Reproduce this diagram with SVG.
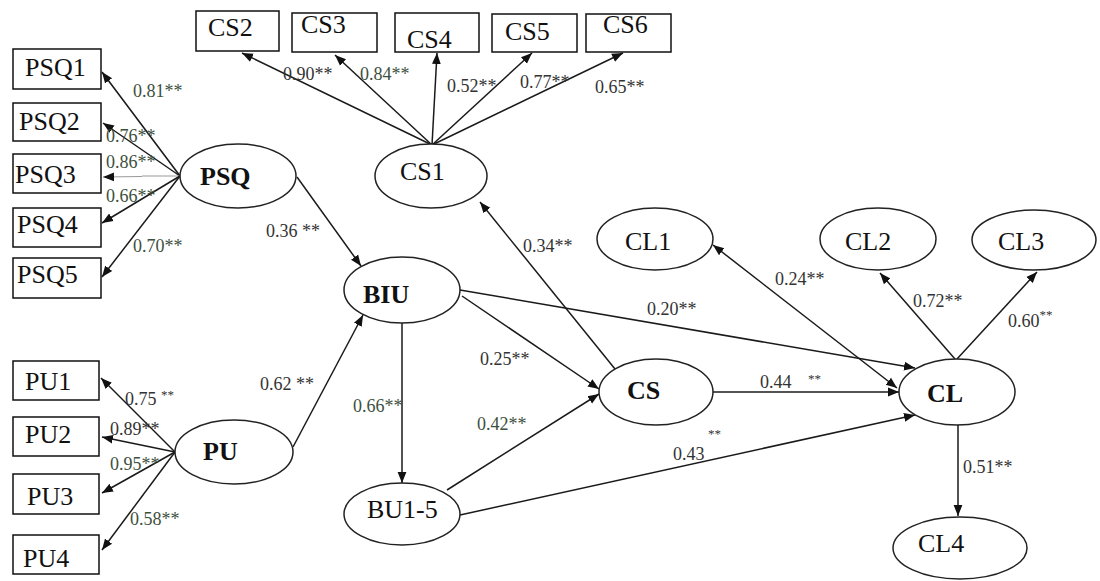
<svg xmlns="http://www.w3.org/2000/svg" width="1100" height="581" viewBox="0 0 1100 581">
<style>
.box{fill:#fff;stroke:#111;stroke-width:1.5}
.ell{fill:#fff;stroke:#222;stroke-width:1.5}
.t{font-family:"Liberation Serif","Times New Roman",serif;font-size:26px;fill:#111}
.tb{font-family:"Liberation Serif","Times New Roman",serif;font-size:26px;font-weight:bold;fill:#111}
.c{font-family:"Liberation Serif","Times New Roman",serif;font-size:18px;fill:#333}
.g{fill:#3d5040}
.s{font-size:13px}
.ln{fill:none;stroke:#1a1a1a;stroke-width:1.5;marker-end:url(#ah)}
.thin{fill:none;stroke:#999;stroke-width:1}
</style>
<defs>
<marker id="ah" viewBox="0 0 10 10" refX="10" refY="5" markerWidth="11" markerHeight="11" markerUnits="userSpaceOnUse" orient="auto"><path d="M0,1 L10,5 L0,9 z" fill="#111"/></marker>
<marker id="as" viewBox="0 0 10 10" refX="0" refY="5" markerWidth="11" markerHeight="11" markerUnits="userSpaceOnUse" orient="auto"><path d="M10,1 L0,5 L10,9 z" fill="#111"/></marker>
</defs>
<rect width="1100" height="581" fill="#fff"/>

<g id="connectors">
<line class="ln" x1="180" y1="176" x2="102" y2="72"/>
<line class="ln" x1="180" y1="176" x2="103" y2="123"/>
<line class="thin" x1="142" y1="176" x2="180" y2="176"/>
<line class="ln" x1="142" y1="176.5" x2="103" y2="177" style="stroke:#999;stroke-width:1"/>
<line class="ln" x1="180" y1="176" x2="102" y2="223"/>
<line class="ln" x1="180" y1="176" x2="102" y2="277"/>
<line class="ln" x1="175" y1="452" x2="101" y2="378"/>
<line class="ln" x1="175" y1="452" x2="102" y2="437"/>
<line class="ln" x1="175" y1="452" x2="102" y2="493"/>
<line class="ln" x1="175" y1="452" x2="102" y2="550"/>
<line class="ln" x1="432" y1="145" x2="242" y2="53"/>
<line class="ln" x1="432" y1="145" x2="335" y2="55"/>
<line class="ln" x1="432" y1="145" x2="437" y2="53"/>
<line class="ln" x1="432" y1="145" x2="532" y2="53"/>
<line class="ln" x1="432" y1="145" x2="623" y2="53"/>
<line class="ln" x1="297" y1="177" x2="361" y2="266"/>
<line class="ln" x1="293" y1="447" x2="363" y2="315"/>
<line class="ln" x1="402" y1="323" x2="402" y2="483"/>
<line class="ln" x1="462" y1="296" x2="599" y2="389"/>
<line class="ln" x1="447" y1="490" x2="599" y2="394"/>
<line class="ln" x1="460" y1="290" x2="915" y2="368"/>
<line class="ln" x1="460" y1="515" x2="915" y2="415"/>
<line class="ln" x1="713" y1="392" x2="899" y2="392"/>
<line class="ln" x1="713" y1="245" x2="897" y2="388" style="marker-start:url(#as)"/>
<line class="ln" x1="615" y1="369" x2="480" y2="202"/>
<line class="ln" x1="955" y1="359" x2="880" y2="273"/>
<line class="ln" x1="957" y1="359" x2="1037" y2="272"/>
<line class="ln" x1="958" y1="425" x2="958" y2="516"/>
</g>

<g id="PSQ1"><rect class="box" x="13" y="49" width="88" height="40"/><text class="t" x="25" y="76">PSQ1</text></g>
<g id="PSQ2"><rect class="box" x="13" y="103" width="88" height="38"/><text class="t" x="19" y="130">PSQ2</text></g>
<g id="PSQ3"><rect class="box" x="13" y="154" width="88" height="39"/><text class="t" x="15" y="183">PSQ3</text></g>
<g id="PSQ4"><rect class="box" x="13" y="208" width="88" height="39"/><text class="t" x="17" y="233">PSQ4</text></g>
<g id="PSQ5"><rect class="box" x="13" y="258" width="88" height="40"/><text class="t" x="17" y="283">PSQ5</text></g>
<g id="PU1"><rect class="box" x="13" y="361" width="86" height="39"/><text class="t" x="25" y="390">PU1</text></g>
<g id="PU2"><rect class="box" x="13" y="417" width="86" height="39"/><text class="t" x="25" y="443">PU2</text></g>
<g id="PU3"><rect class="box" x="13" y="474" width="86" height="40"/><text class="t" x="27" y="505">PU3</text></g>
<g id="PU4"><rect class="box" x="13" y="535" width="86" height="39"/><text class="t" x="23" y="567">PU4</text></g>
<g id="CS2"><rect class="box" x="196" y="11" width="83" height="40"/><text class="t" x="208" y="36">CS2</text></g>
<g id="CS3"><rect class="box" x="292" y="13" width="85" height="39"/><text class="t" x="301" y="33">CS3</text></g>
<g id="CS4"><rect class="box" x="395" y="13" width="84" height="39"/><text class="t" x="407" y="48">CS4</text></g>
<g id="CS5"><rect class="box" x="492" y="14" width="85" height="38"/><text class="t" x="505" y="40">CS5</text></g>
<g id="CS6"><rect class="box" x="586" y="14" width="85" height="38"/><text class="t" x="603" y="33">CS6</text></g>

<g id="PSQ"><ellipse class="ell" cx="238" cy="176" rx="58" ry="32"/><text class="tb" x="200" y="185">PSQ</text></g>
<g id="CS1"><ellipse class="ell" cx="431" cy="176" rx="56" ry="32"/><text class="t" x="400" y="180">CS1</text></g>
<g id="BIU"><ellipse class="ell" cx="402" cy="290" rx="58" ry="33"/><text class="tb" x="363" y="303">BIU</text></g>
<g id="PU"><ellipse class="ell" cx="234" cy="452" rx="59" ry="32"/><text class="tb" x="203" y="460">PU</text></g>
<g id="BU1-5"><ellipse class="ell" cx="402" cy="514" rx="58" ry="31"/><text class="t" x="367" y="518">BU1-5</text></g>
<g id="CS"><ellipse class="ell" cx="656" cy="392" rx="57" ry="33"/><text class="tb" x="627" y="399">CS</text></g>
<g id="CL"><ellipse class="ell" cx="957" cy="392" rx="58" ry="33"/><text class="tb" x="927" y="402">CL</text></g>
<g id="CL1"><ellipse class="ell" cx="655" cy="239" rx="58" ry="31"/><text class="t" x="625" y="250">CL1</text></g>
<g id="CL2"><ellipse class="ell" cx="878" cy="239" rx="58" ry="31"/><text class="t" x="845" y="250">CL2</text></g>
<g id="CL3"><ellipse class="ell" cx="1034" cy="240" rx="62" ry="30"/><text class="t" x="998" y="250">CL3</text></g>
<g id="CL4"><ellipse class="ell" cx="960" cy="548" rx="67" ry="31"/><text class="t" x="918" y="552">CL4</text></g>

<g id="labels">
<text class="c g" x="133" y="97">0.81**</text>
<text class="c g" x="106" y="142">0.76**</text>
<text class="c g" x="106" y="168">0.86**</text>
<text class="c g" x="106" y="202">0.66**</text>
<text class="c g" x="133" y="252">0.70**</text>
<text class="c" x="266" y="237">0.36 **</text>
<text class="c" x="283" y="80">0.90**</text>
<text class="c g" x="360" y="80">0.84**</text>
<text class="c" x="447" y="92">0.52**</text>
<text class="c" x="520" y="88">0.77**</text>
<text class="c" x="595" y="93">0.65**</text>
<text class="c" x="125" y="405">0.75 <tspan class="s" dy="-6">**</tspan></text>
<text class="c" x="110" y="435">0.89**</text>
<text class="c g" x="110" y="470">0.95**</text>
<text class="c g" x="130" y="525">0.58**</text>
<text class="c" x="260" y="390">0.62 **</text>
<text class="c" x="523" y="252">0.34**</text>
<text class="c" x="480" y="365">0.25**</text>
<text class="c g" x="477" y="430">0.42**</text>
<text class="c g" x="353" y="412">0.66**</text>
<text class="c" x="647" y="315">0.20**</text>
<text class="c" x="760" y="388">0.44 <tspan x="808" dy="-5" class="s">**</tspan></text>
<text class="c" x="673" y="460">0.43<tspan x="708" dy="-22" class="s">**</tspan></text>
<text class="c" x="775" y="285">0.24**</text>
<text class="c" x="913" y="307">0.72**</text>
<text class="c" x="1008" y="327">0.60<tspan class="s" dy="-8">**</tspan></text>
<text class="c" x="963" y="473">0.51**</text>
</g>
</svg>
